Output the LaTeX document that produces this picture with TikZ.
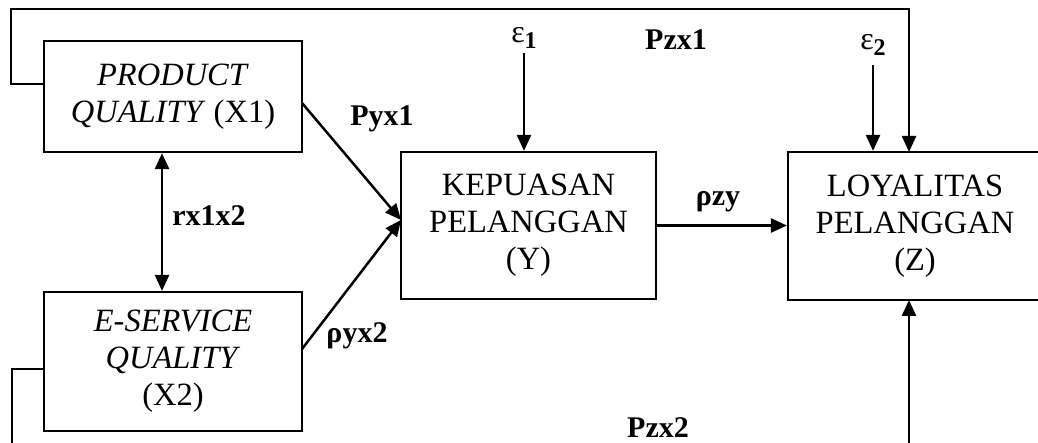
\documentclass[tikz,border=0pt]{standalone}
\usepackage{fontspec}
\setmainfont{Liberation Serif}
\usetikzlibrary{arrows.meta}
\begin{document}
\begin{tikzpicture}[x=1pt,y=-1pt,
  box/.style={draw,line width=2.2pt,inner sep=0pt,align=center,
    font=\fontsize{32.5}{37}\selectfont},
  lbl/.style={font=\fontsize{30}{32}\selectfont\bfseries,inner sep=0pt},
  eps/.style={font=\fontsize{32}{34}\selectfont,inner sep=0pt},
  conn/.style={line width=2.5pt},
  arr/.style={conn,-{Triangle[length=16pt,width=14pt]}},
  darr/.style={conn,{Triangle[length=16pt,width=14pt]}-{Triangle[length=16pt,width=14pt]}}]
\useasboundingbox (0,0) rectangle (1038,443);
\clip (0,0) rectangle (1038,443);
% boxes
\node[box,minimum width=258pt,minimum height=111pt] (x1) at (173,96.5)
  {\textit{PRODUCT}\\\textit{QUALITY} (X1)};
\node[box,minimum width=258pt,minimum height=139pt] (x2) at (173,361.5)
  {\textit{E-SERVICE}\\\textit{QUALITY}\\(X2)};
\node[box,minimum width=255pt,minimum height=147pt] (y) at (528.5,225.5)
  {KEPUASAN\\PELANGGAN\\(Y)};
\node[box,minimum width=254pt,minimum height=148pt] (z) at (915,226)
  {LOYALITAS\\PELANGGAN\\(Z)};
% labels
\node[eps] (e1) at (524,38) {ε\raisebox{-0.35ex}{\fontsize{24}{24}\selectfont\bfseries 1}};
\node[eps] (e2) at (873,45) {ε\raisebox{-0.35ex}{\fontsize{24}{24}\selectfont\bfseries 2}};
\node[lbl] (lpyx1) at (382,119) {Pyx1};
\node[lbl] (lpzx1) at (676,40) {Pzx1};
\node[lbl] (lrx) at (209,216) {rx1x2};
\node[lbl] (lpyx2) at (357,336) {ρyx2};
\node[lbl] (lpzy) at (718,202) {ρzy};
\node[lbl] (lpzx2) at (658,428) {Pzx2};
% coordinates
\coordinate (yin) at (401,220);
\coordinate (x1r) at (302,103);
\coordinate (x2r) at (302,349);
\coordinate (x1l) at (44,84);
\coordinate (x2l) at (44,369);
\coordinate (tl) at (11,9);
\coordinate (ztop) at (909,152);
\coordinate (zbot) at (909,300);
\coordinate (bot) at (909,450);
\coordinate (botl) at (12,450);
\coordinate (e1s) at (524,53);
\coordinate (e2s) at (873,65);
% connectors
\draw[arr] (x1r) -- (yin);
\draw[arr] (x2r) -- (yin);
\draw[darr] (x1.south -| 162,0) -- (x2.north -| 162,0);
\draw[arr] (y.east) -- (z.west |- y.east);
\draw[arr] (e1s) -- (y.north -| e1s);
\draw[arr] (e2s) -- (z.north -| e2s);
\draw[arr] (x1l) -| (tl) -| (ztop);
\draw[arr] (bot) -- (zbot);
\draw[conn] (x2l) -| (botl);
\end{tikzpicture}
\end{document}
